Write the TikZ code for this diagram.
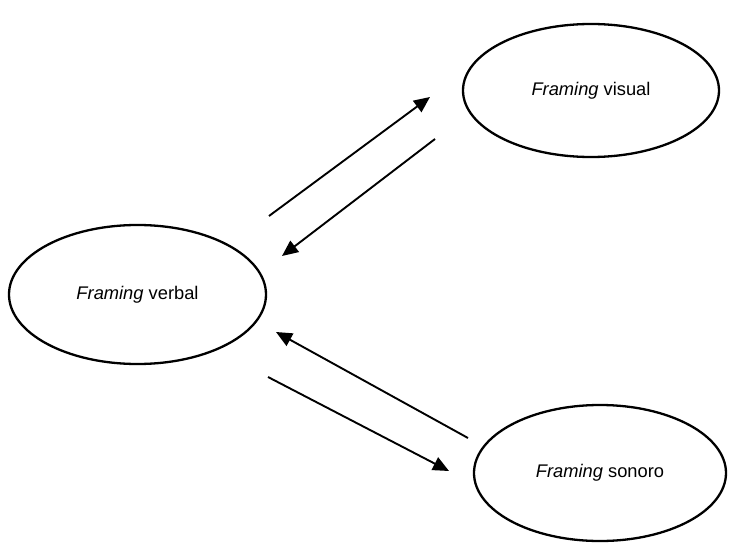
\documentclass[tikz,border=0pt]{standalone}
\usepackage{fontspec}
\setmainfont{Liberation Sans}
\usetikzlibrary{shapes.geometric,arrows.meta}
\begin{document}
\begin{tikzpicture}[x=1pt,y=-1pt,
  frame/.style={draw=black,line width=2.3pt,ellipse,inner sep=0pt,font=\fontsize{18.3}{20}\selectfont},
  conn/.style={draw=black,line width=1.9pt,-{Triangle[length=16pt,width=14pt]}}]
\useasboundingbox (0,0) rectangle (729,543);
\node[frame,minimum width=256pt,minimum height=133pt] (visual) at (591,90.5) {\textit{Framing} visual};
\node[frame,minimum width=257pt,minimum height=139pt] (verbal) at (137.5,294.5) {\textit{Framing} verbal};
\node[frame,minimum width=252pt,minimum height=136pt] (sonoro) at (600,473) {\textit{Framing} sonoro};
\coordinate (a1s) at (269,216);
\coordinate (a1e) at (430,97);
\coordinate (a2s) at (435,139);
\coordinate (a2e) at (282,256);
\coordinate (a3s) at (468,438);
\coordinate (a3e) at (276,332);
\coordinate (a4s) at (268,377);
\coordinate (a4e) at (449,471);
\draw[conn] (a1s) -- (a1e);
\draw[conn] (a2s) -- (a2e);
\draw[conn] (a3s) -- (a3e);
\draw[conn] (a4s) -- (a4e);
\end{tikzpicture}
\end{document}
